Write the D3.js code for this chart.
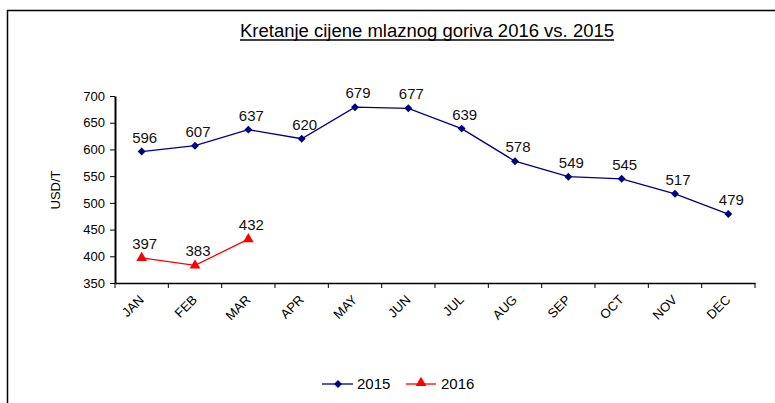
<!DOCTYPE html>
<html><head><meta charset="utf-8">
<script src="https://cdn.jsdelivr.net/npm/d3@7"></script>
<style>body{margin:0;background:#fff}svg{display:block}</style>
</head><body>
<svg id="c" width="775" height="403"></svg>
<script>
const months = ["JAN","FEB","MAR","APR","MAY","JUN","JUL","AUG","SEP","OCT","NOV","DEC"];
const values2015 = [596,607,637,620,679,677,639,578,549,545,517,479];
const values2016 = [397,383,432];
const yTicks = [350,400,450,500,550,600,650,700];
const title = "Kretanje cijene mlaznog goriva 2016 vs. 2015";
const yLabel = "USD/T";

const svg = d3.select("#c");
const font = "'Liberation Sans', Arial, sans-serif";
// frame
svg.append("path").attr("d","M7.5,403 V10.5 H775").attr("fill","none").attr("stroke","#000").attr("stroke-width",1.5);

const L=115, R=755, T=96, B=283;
const x = d3.scaleBand().domain(months).range([L,R]);
const y = d3.scaleLinear().domain([350,700]).range([B,T]);

// title
const tt = svg.append("text").attr("x",427).attr("y",37).attr("text-anchor","middle")
  .attr("font-family","'Liberation Sans Narrow', 'Arial Narrow', "+font).attr("font-size",18)
  .attr("fill","#000").text(title);
tt.attr("textLength",374).attr("lengthAdjust","spacingAndGlyphs");
svg.append("line").attr("x1",240).attr("x2",614).attr("y1",40).attr("y2",40).attr("stroke","#000").attr("stroke-width",1.5);

// y axis
const ya = svg.append("g").attr("transform",`translate(${L},0)`)
  .call(d3.axisLeft(y).tickValues(yTicks).tickSize(5).tickSizeOuter(0));
ya.select(".domain").attr("stroke-width",2);
ya.selectAll("text").attr("font-family",font).attr("font-size",13).attr("fill","#000").attr("dx","-2");

// x axis
const xa = svg.append("g").attr("transform",`translate(0,${B})`)
  .call(d3.axisBottom(x).tickSize(0));
xa.select(".domain").attr("stroke-width",1.5);
xa.selectAll(".tick text").remove();
const tickPos = d3.range(13).map(i => L + i*x.step());
xa.selectAll(".bt").data(tickPos).enter().append("line")
  .attr("x1",d=>d).attr("x2",d=>d).attr("y1",0).attr("y2",5).attr("stroke","#000");
xa.selectAll(".lbl").data(months).enter().append("text")
  .attr("transform",d=>`translate(${x(d)+x.bandwidth()/2+3},${17.5}) rotate(-45)`)
  .attr("text-anchor","end").attr("font-family",font).attr("font-size",13).attr("fill","#000").text(d=>d);

// y label
svg.append("text").attr("transform","translate(60,190) rotate(-90)").attr("text-anchor","middle")
  .attr("font-family",font).attr("font-size",13).text(yLabel);

const cx = d => x(d)+x.bandwidth()/2;
const line = d3.line().x((d,i)=>cx(months[i])).y(d=>y(d));

// 2015
svg.append("path").attr("d",line(values2015)).attr("fill","none").attr("stroke","#000080").attr("stroke-width",1.3);
svg.selectAll(".d15").data(values2015).enter().append("path")
  .attr("d",d3.symbol(d3.symbolDiamond2,40)())
  .attr("transform",(d,i)=>`translate(${cx(months[i])},${y(d)})`).attr("fill","#000080");
svg.selectAll(".l15").data(values2015).enter().append("text")
  .attr("x",(d,i)=>cx(months[i])+3).attr("y",d=>y(d)-9).attr("text-anchor","middle")
  .attr("font-family",font).attr("font-size",15).attr("fill","#111").text(d=>d);

// 2016
svg.append("path").attr("d",line(values2016)).attr("fill","none").attr("stroke","#ff0000").attr("stroke-width",1.3);
svg.selectAll(".d16").data(values2016).enter().append("path")
  .attr("d",d3.symbol(d3.symbolTriangle,50)())
  .attr("transform",(d,i)=>`translate(${cx(months[i])},${y(d)})`).attr("fill","#ff0000");
svg.selectAll(".l16").data(values2016).enter().append("text")
  .attr("x",(d,i)=>cx(months[i])+3).attr("y",d=>y(d)-9).attr("text-anchor","middle")
  .attr("font-family",font).attr("font-size",15).attr("fill","#111").text(d=>d);

// legend
const lg = svg.append("g");
lg.append("line").attr("x1",322).attr("x2",353).attr("y1",384).attr("y2",384).attr("stroke","#000080").attr("stroke-width",1.3);
lg.append("path").attr("d",d3.symbol(d3.symbolDiamond2,40)()).attr("transform","translate(338,384)").attr("fill","#000080");
lg.append("text").attr("x",357).attr("y",389).attr("font-family",font).attr("font-size",15).text("2015");
lg.append("line").attr("x1",406).attr("x2",436).attr("y1",384).attr("y2",384).attr("stroke","#ff0000").attr("stroke-width",1.3);
lg.append("path").attr("d",d3.symbol(d3.symbolTriangle,50)()).attr("transform","translate(421,383)").attr("fill","#ff0000");
lg.append("text").attr("x",441).attr("y",389).attr("font-family",font).attr("font-size",15).text("2016");
</script>
</body></html>
